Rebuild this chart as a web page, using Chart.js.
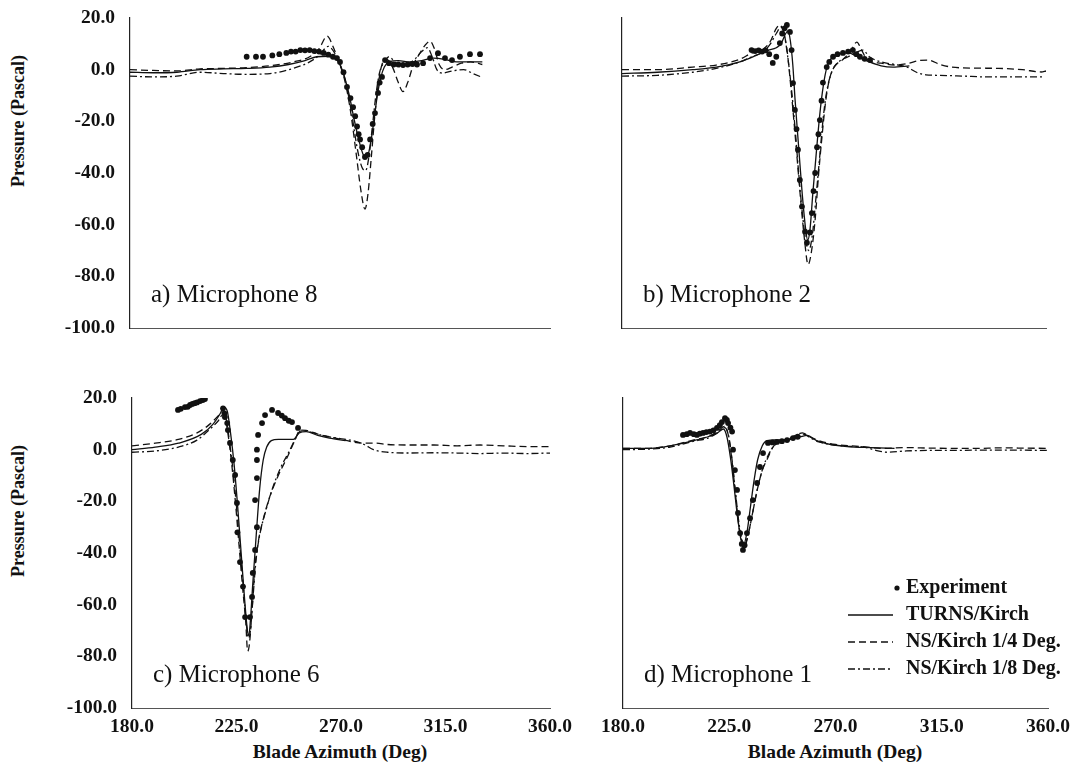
<!DOCTYPE html>
<html>
<head>
<meta charset="utf-8">
<script src="https://cdn.jsdelivr.net/npm/chart.js@4/dist/chart.umd.min.js"></script>
<style>
    body { margin: 0; background: #fff; }
    #page { position: relative; width: 1075px; height: 764px; overflow: hidden; background: #fff; }
    #page canvas { position: absolute; }
    .axis-title { position: absolute; font: bold 18px 'Liberation Serif', 'Times New Roman', serif; color: #111; white-space: nowrap; }
    .axis-title.rot { transform: translate(-50%, -50%) rotate(-90deg); }
    .axis-title.hor { transform: translate(-50%, -50%); font-size: 19.5px; }
</style>
</head>
<body>
<div id="page">
    <canvas id="micA" width="525" height="340" style="left:40px;top:0px"></canvas>
    <canvas id="micB" width="465" height="340" style="left:600px;top:0px"></canvas>
    <canvas id="micC" width="535" height="360" style="left:40px;top:380px"></canvas>
    <canvas id="micD" width="475" height="360" style="left:600px;top:380px"></canvas>

    <div class="axis-title rot" style="left:18px;top:121px">Pressure (Pascal)</div>
    <div class="axis-title rot" style="left:18px;top:511px">Pressure (Pascal)</div>
    <div class="axis-title hor" style="left:340px;top:752px">Blade Azimuth (Deg)</div>
    <div class="axis-title hor" style="left:835px;top:752px">Blade Azimuth (Deg)</div>
</div>

<script>
// --- данные: [азимут, давление] ---
const xTicks = [180, 225, 270, 315, 360];
const yTicks = [-100, -80, -60, -40, -20, 0, 20];
const seriesNames = ['Experiment', 'TURNS/Kirch', 'NS/Kirch 1/4 Deg.', 'NS/Kirch 1/8 Deg.'];
const panelTitles = ['a) Microphone 8', 'b) Microphone 2', 'c) Microphone 6', 'd) Microphone 1'];

// a) Microphone 8
const mic8Exp = [[230,5],[234,5],[237,5],[241,5.5],[244,6],[247,6.5],[249,7],[251,7],[253,7.6],[255,7.5],[257,7.6],[259,7.2],[261,7],[263,6.5],[265,5.8],[267,5],[268.7,4.5],[270,3],[271.5,-1],[273,-6.7],[274.5,-11],[275.6,-14.5],[276.5,-18],[277.3,-22],[278,-25],[278.6,-27],[279.5,-30],[280.7,-33.8],[281.8,-33],[282.9,-27],[284,-21],[285,-16.8],[286.3,-9],[287,-5],[288,-2.8],[289.3,3.7],[291,2.5],[293,2],[295,2],[297,1.8],[299,2],[301,2.2],[303,2],[305.6,2.5],[308.6,4.5],[312,6.4],[315,4.5],[318,3.7],[321.4,5],[325.7,6],[330,6]];
const mic8Turns = [[180,-1],[190,-1.2],[200,-1],[210,0],[220,0.3],[230,0.5],[240,1],[248,2],[255,3.5],[260,5],[265,5.2],[268,4.5],[270,2],[272,-3],[274,-10],[276,-19],[278,-27],[280,-33],[281.5,-34],[283,-29],[284.5,-20],[286,-10],[287.5,-3],[289,1],[291,3],[295,3.5],[300,3],[305,3.5],[310,4.5],[315,4],[320,3],[325,3],[331,3]];
const mic8Ns4 = [[180,0],[190,-0.3],[200,-0.5],[210,0.3],[220,0.5],[230,0.8],[240,1.5],[250,3],[257,5],[261,8],[264.5,13],[267,9],[269.5,3],[272,-4],[274.5,-16],[277,-33],[279,-47],[280.7,-54],[282,-48],[283.5,-33],[285,-17],[286.5,-5],[288,2],[290,4],[292.5,1],[295,-5],[297,-8.5],[299,-5],[301.5,2],[304,6],[306.5,9.5],[308.6,11],[310.5,8],[312.5,2],[315,0],[318,1],[322,2.5],[326,3],[331,2]];
const mic8Ns8 = [[180,-2.5],[190,-2.8],[200,-2.5],[210,-1],[220,-1.5],[230,-1.8],[240,-1.5],[250,0.5],[257,3],[261,5.5],[265,9],[268,6],[270,2],[272.5,-5],[275,-17],[277.5,-31],[279.5,-38],[281,-39],[282.5,-33],[284,-21],[285.5,-9],[287,-1],[289,3],[291,5],[293.5,3],[296,1],[299,2],[302,4],[305,7],[307.5,8.5],[309.5,5],[311.5,0],[314,-1.3],[318,-0.5],[323,0],[327,-1.5],[331,-3]];

// b) Microphone 2
const mic2Exp = [[235,7.6],[236.5,7.2],[238,7.5],[239.5,7],[241,7.5],[242.5,6],[244,2.6],[245.5,5],[247,10.3],[248,14],[249,16],[250,17.3],[251.3,14.6],[252,7.6],[252.6,-5.2],[253.4,-15.6],[254.1,-23],[254.7,-31],[255.5,-42.7],[256.4,-53],[257.7,-62.7],[258.5,-67],[259.8,-63],[260.6,-55.5],[261.3,-47],[262,-40],[262.8,-30],[263.4,-25],[264,-19.5],[264.7,-12],[265.3,-5],[266.9,1],[268,3],[269.6,5],[271.5,6],[273.8,6.5],[276,7],[278,7.6],[279.5,6],[281,5],[283,4.2],[285.3,3.7]];
const mic2Turns = [[180,-1.5],[195,-1],[210,0],[220,1],[230,3],[237,5.5],[242,7.5],[245.5,8.5],[247.5,10],[249.5,14],[250.5,15],[251.5,11],[252.5,2],[253.5,-12],[255,-30],[256.5,-48],[258,-62],[258.8,-66],[259.8,-62],[261,-48],[262.5,-32],[264,-17],[265.5,-6],[267,1],[269,4.5],[272,6],[276,6.5],[280,5],[285,3],[290,1.5],[295,1],[302,1.5]];
const mic2Ns4 = [[180,0],[195,0],[210,1],[220,1.8],[230,4],[235,6.4],[240,8],[243,11],[245.5,16],[247,17.3],[248.5,15],[250,8],[251.5,-5],[253,-20],[254.5,-36],[256,-52],[257.5,-66],[259,-75.5],[260.5,-70],[262,-58],[263.5,-40],[265,-25],[266.5,-12],[268,-4],[270,1],[273.5,3.7],[277,7],[279.7,10.7],[281.5,8],[284,4],[290,2.5],[296,1.8],[302,2.5],[306,3.5],[310,3.7],[315,2],[320,1],[330,0.6],[340,0.5],[350,0],[358,-0.9],[360,-0.5]];
const mic2Ns8 = [[180,-2.5],[195,-2.2],[210,-1],[220,0.5],[230,3],[235,5],[240,7],[243,10],[245.5,14],[247.5,16.5],[249,13],[250.5,4],[252,-8],[253.5,-23],[255,-40],[256.5,-55],[258,-66],[259.3,-70],[260.8,-64],[262.3,-50],[264,-33],[265.5,-18],[267,-8],[269,-1],[272,3],[276,5],[279,6.5],[282.3,7.6],[285,5],[290,3],[296,2],[301,1],[305,-1],[309,-2],[315,-2.2],[325,-2.5],[335,-2.8],[345,-2.8],[359,-2.8]];

// c) Microphone 6
const mic6Exp = [[199.8,15.4],[201,15.8],[202.8,16.5],[204,16.6],[205,17.3],[206,17.7],[207,18],[208,18.3],[209.3,18.8],[210.5,19.2],[211.4,19.6],[219.2,16],[219.8,14],[220,12.6],[221,10.3],[221.3,7.6],[222.2,2.6],[223.4,-4],[224.4,-9.8],[225.2,-20.6],[225.4,-32],[226.5,-43.5],[227.8,-53],[228.7,-64.8],[230.8,-64.8],[231.7,-57],[232,-47.7],[233,-38.8],[233.8,-30],[233,-19.5],[233.8,-11],[233.8,-4],[233.8,0],[234.3,5.7],[236,10.3],[237.3,13.4],[240.3,15.4],[242.9,14.2],[244.5,13.2],[245.9,12.2],[247.5,11.2],[248.9,10.7],[251.5,8.4]];
const mic6Turns = [[180,0],[190,1],[200,2.5],[210,6],[215,10],[218,14],[219.5,16.5],[221,15],[222.5,6],[224,-6],[225.5,-22],[227,-40],[228.5,-58],[229.7,-70],[230.3,-72],[231,-66],[232,-52],[233.5,-33],[235,-15],[236.5,-4],[238,1],[240,3.5],[243,4],[247,4],[249.5,4],[252,6.5],[255,7],[260,5.5],[265,4.5],[272,3.5]];
const mic6Ns4 = [[180,1.5],[190,2.5],[200,4],[208,6.5],[213,9.5],[217,13],[218.5,14.5],[220,13],[221.5,5],[223,-6],[224.5,-20],[226,-36],[227.5,-52],[229,-67],[229.8,-78],[230.6,-75],[231.7,-62],[233,-45],[234.5,-35],[236.5,-27],[239.4,-18],[243,-10],[246.8,-3],[250.2,3.7],[252.4,7.6],[255,7.5],[260,6],[265,5],[270,4],[275,3],[280,2.5],[285,2.5],[290,2],[300,1.8],[310,1.8],[320,1.5],[330,1.8],[340,1.5],[350,1.2],[360,1.2]];
const mic6Ns8 = [[180,-1],[190,-0.5],[200,1],[208,3.7],[213,7.5],[217,11],[219,13.4],[220.5,12],[222,3],[223.5,-8],[225,-22],[226.5,-38],[228,-54],[229.3,-68],[230.2,-73],[231,-70],[232.2,-56],[233.5,-42],[235,-33],[237.5,-24],[240.5,-15],[244,-7],[247.5,-1],[250.5,4.5],[252.5,7.2],[256,7],[262,5.5],[268,4.5],[274,3.7],[280,2],[284,0],[290,-1],[300,-1.3],[310,-1.2],[320,-1.3],[330,-1.5],[340,-1.3],[350,-1.5],[360,-1.3]];

// d) Microphone 1
const mic1Exp = [[205.4,5.7],[207,6],[208.4,6.5],[210,6],[211.3,5.7],[212.5,6.2],[213.9,6.5],[215.3,6.8],[216.8,7],[218.3,7.5],[219.8,8.4],[221,9.5],[221.9,10.7],[223.2,12.2],[224,11.5],[224.5,10.3],[225.5,8.5],[226.2,7],[226.6,0],[227.4,-7.9],[228.3,-15.6],[228.7,-24.5],[229.6,-32.3],[230.3,-36.5],[230.8,-38.8],[231.5,-37],[232.5,-32.3],[233.8,-26.5],[235,-19.5],[236.8,-12.9],[238,-6.7],[239.3,-1.3],[241.4,2.6],[243.3,2.8],[245.2,3],[247.3,3.3],[249.5,3.7],[252,4.5],[254,5]];
const mic1Turns = [[180,0.5],[190,0.5],[200,1.5],[210,3.5],[216,5],[220,6.5],[222.5,8],[224,5],[225.5,-3],[227,-14],[228.5,-26],[230,-35],[231,-37],[232.5,-32],[234,-22],[235.5,-12],[237,-4],[239,1.5],[241,3.5],[245,3.8],[250,4],[255,5],[258,5.5],[262,3.5],[268,2],[275,1.2],[285,0.8],[295,0.5]];
const mic1Ns4 = [[180,0.5],[190,0.5],[200,1.5],[210,3.8],[216,5],[220,7],[223,9],[224.5,6],[226,-3],[227.5,-16],[229,-29],[230.5,-36],[231.5,-37.5],[233,-33],[235,-24],[237,-15],[239,-8],[241.4,-3],[243.5,1],[246,3],[250,4],[253,5.5],[256,6.5],[259,5],[263,3.5],[266.4,2.6],[270,2],[280,1.3],[290,0.5],[300,0.8],[310,0.6],[320,0.5],[330,0.5],[340,0.7],[350,0.6],[360,0.5]];
const mic1Ns8 = [[180,0],[190,0.2],[200,1],[210,3.3],[216,4.5],[220,6.5],[223,8.5],[224.7,5.5],[226.2,-4],[227.7,-17],[229.2,-29],[230.6,-35.5],[231.6,-36.5],[233.2,-32],[235.2,-23],[237.2,-14],[239.4,-6.7],[241.6,-2],[244,1.5],[247,3],[251,4],[254,5],[256.5,6],[259.5,4.5],[263,3],[268,2],[275,1.3],[282,1],[288,-0.5],[292,-1],[300,-0.5],[310,-0.3],[320,-0.3],[330,-0.2],[340,-0.2],[350,-0.2],[360,-0.3]];

const SERIF = "'Liberation Serif', 'Times New Roman', serif";

const MicPanels = {
    init: function() {
        Chart.register(this.plugins.panelText);
        // a, b — верхний ряд без подписей по X; b, d — без подписей по Y
        this.build('micA', [mic8Exp, mic8Turns, mic8Ns4, mic8Ns8], { title: panelTitles[0], showX: false, showY: true, yWidth: 90, xHeight: 12, padRight: 15 });
        this.build('micB', [mic2Exp, mic2Turns, mic2Ns4, mic2Ns8], { title: panelTitles[1], showX: false, showY: false, yWidth: 22, xHeight: 12, padRight: 19 });
        this.build('micC', [mic6Exp, mic6Turns, mic6Ns4, mic6Ns8], { title: panelTitles[2], showX: true, showY: true, yWidth: 92, xHeight: 32, padRight: 25 });
        this.build('micD', [mic1Exp, mic1Turns, mic1Ns4, mic1Ns8], { title: panelTitles[3], showX: true, showY: false, yWidth: 23, xHeight: 32, padRight: 27, legend: true });
    },

    toPoints: (rows) => rows.map(r => ({ x: r[0], y: r[1] })),

    lineSet: function(label, rows, dash) {
        return {
            label: label,
            data: this.toPoints(rows),
            showLine: true,
            borderColor: '#111',
            borderWidth: 1.3,
            borderDash: dash,
            pointRadius: 0,
            cubicInterpolationMode: 'monotone',
            fill: false
        };
    },

    build: function(id, rows, opt) {
        const ctx = document.getElementById(id).getContext('2d');
        const tickFont = { family: SERIF, size: 19.5, weight: 'bold', lineHeight: 1 };
        new Chart(ctx, {
            type: 'scatter',
            data: {
                datasets: [
                    {
                        label: seriesNames[0],
                        data: this.toPoints(rows[0]),
                        showLine: false,
                        pointRadius: 2.9,
                        pointBackgroundColor: '#111',
                        pointBorderWidth: 0
                    },
                    this.lineSet(seriesNames[1], rows[1], []),
                    this.lineSet(seriesNames[2], rows[2], [7, 4]),
                    this.lineSet(seriesNames[3], rows[3], [7, 3, 2, 3])
                ]
            },
            options: {
                responsive: false,
                animation: false,
                devicePixelRatio: 1,
                layout: { padding: { top: 18, right: opt.padRight, left: 0, bottom: 0 } },
                plugins: {
                    legend: { display: false },
                    tooltip: { enabled: false },
                    panelText: { title: opt.title, legend: !!opt.legend }
                },
                scales: {
                    x: {
                        type: 'linear',
                        min: xTicks[0],
                        max: xTicks[xTicks.length - 1],
                        afterBuildTicks: (s) => { s.ticks = xTicks.map(v => ({ value: v })); },
                        afterFit: (s) => { s.height = opt.xHeight; },
                        // тики не рисуем, tickLength работает как отступ подписей
                        grid: { display: false, drawTicks: true, tickLength: 9 },
                        border: { display: true, color: '#555', width: 1 },
                        ticks: {
                            display: opt.showX,
                            padding: 0,
                            color: '#111',
                            maxRotation: 0,
                            font: tickFont,
                            callback: (v) => Number(v).toFixed(1)
                        }
                    },
                    y: {
                        min: yTicks[0],
                        max: yTicks[yTicks.length - 1],
                        afterBuildTicks: (s) => { s.ticks = yTicks.map(v => ({ value: v })); },
                        afterFit: (s) => { s.width = opt.yWidth; },
                        grid: { display: false, drawTicks: true, tickLength: 15 },
                        border: { display: true, color: '#222', width: 1.2 },
                        ticks: {
                            display: opt.showY,
                            padding: 0,
                            color: '#111',
                            font: tickFont,
                            callback: (v) => Number(v).toFixed(1)
                        }
                    }
                }
            }
        });
    },

    plugins: {
        // подпись панели и легенда (только для d)
        panelText: {
            id: 'panelText',
            afterDraw: function(chart, args, o) {
                const ctx = chart.ctx;
                const area = chart.chartArea;
                ctx.save();
                ctx.fillStyle = '#111';
                ctx.textBaseline = 'middle';
                ctx.font = '25px ' + SERIF;
                ctx.fillText(o.title, area.left + 21, area.bottom - 33);

                if (o.legend) {
                    const x0 = area.left + 225;
                    const tx = area.left + 283;
                    let y = area.top + 190;
                    ctx.font = 'bold 20px ' + SERIF;
                    chart.data.datasets.forEach((ds, i) => {
                        if (i === 0) {
                            ctx.beginPath();
                            ctx.arc(tx - 9, y, 2.6, 0, Math.PI * 2);
                            ctx.fill();
                        } else {
                            ctx.save();
                            ctx.strokeStyle = ds.borderColor;
                            ctx.lineWidth = 1.3;
                            ctx.setLineDash(ds.borderDash);
                            ctx.beginPath();
                            ctx.moveTo(x0, y);
                            ctx.lineTo(x0 + 45, y);
                            ctx.stroke();
                            ctx.restore();
                        }
                        ctx.fillText(ds.label, tx, y);
                        y += 27;
                    });
                }
                ctx.restore();
            }
        }
    }
};

MicPanels.init();
</script>
</body>
</html>
